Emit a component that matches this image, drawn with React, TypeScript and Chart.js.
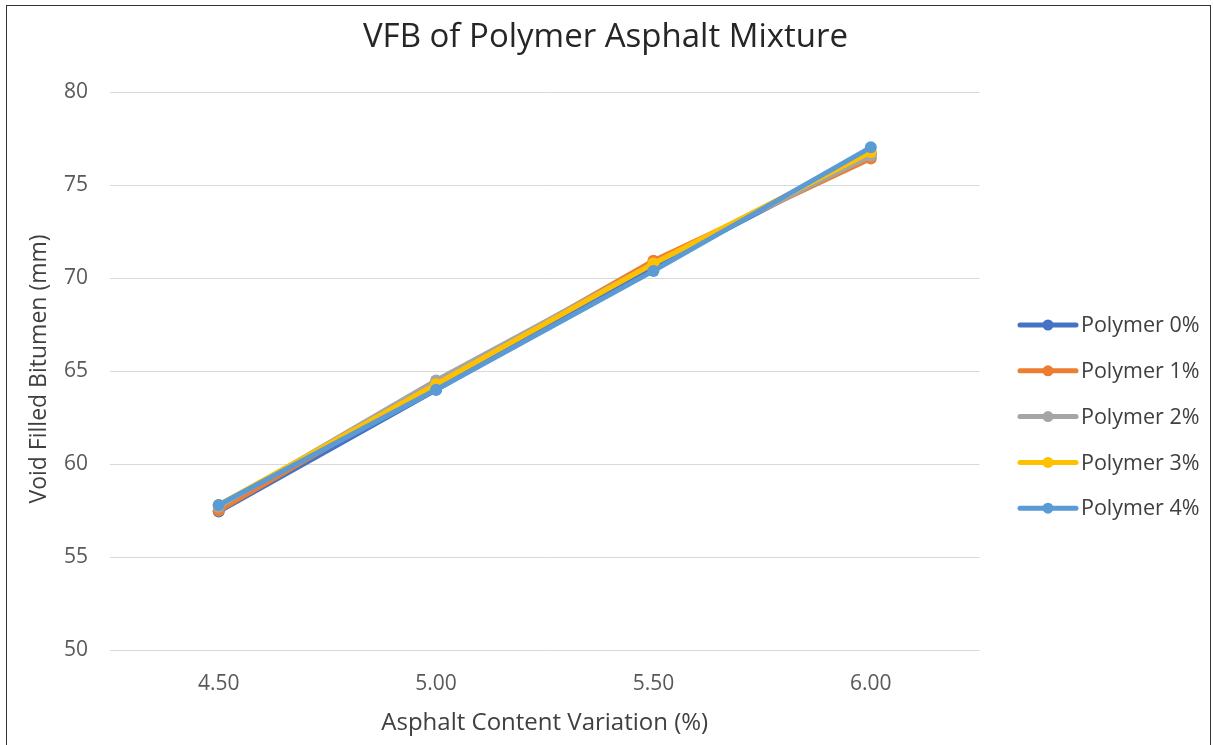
import React, { useEffect, useRef } from "react";
import { Chart, registerables } from "chart.js";

Chart.register(...registerables);

const categories = ["4.50", "5.00", "5.50", "6.00"];
const seriesNames = ["Polymer 0%", "Polymer 1%", "Polymer 2%", "Polymer 3%", "Polymer 4%"];
const polymer0 = [57.45, 64.0, 70.6, 76.7];
const polymer1 = [57.5, 64.3, 70.95, 76.45];
const polymer2 = [57.7, 64.5, 70.8, 76.6];
const polymer3 = [57.8, 64.3, 70.8, 76.8];
const polymer4 = [57.8, 64.0, 70.4, 77.05];
const seriesValues = [polymer0, polymer1, polymer2, polymer3, polymer4];
const seriesColors = ["#4472C4", "#ED7D31", "#A5A5A5", "#FFC000", "#5B9BD5"];
const yTicks = [50, 55, 60, 65, 70, 75, 80];
const chartTitle = "VFB of Polymer Asphalt Mixture";
const yTitle = "Void Filled Bitumen (mm)";
const xTitle = "Asphalt Content Variation (%)";

const FONT = "'Open Sans', 'Liberation Sans', sans-serif";

const decorPlugin = {
  id: "decor",
  afterDraw(chart: any) {
    const ctx = chart.ctx;
    ctx.save();
    // title
    ctx.fillStyle = "#262626";
    ctx.font = `33px ${FONT}`;
    ctx.textAlign = "center";
    ctx.textBaseline = "middle";
    ctx.fillText(chartTitle, 598.5, 32);
    // y title
    ctx.save();
    ctx.translate(32.5, 363);
    ctx.rotate(-Math.PI / 2);
    ctx.fillStyle = "#404040";
    ctx.font = `23px ${FONT}`;
    ctx.fillText(yTitle, 0, 0);
    ctx.restore();
    // legend
    const x0 = 1013;
    const y0 = 319;
    const gap = 45.8;
    chart.data.datasets.forEach((ds: any, i: number) => {
      const y = y0 + i * gap;
      ctx.strokeStyle = ds.borderColor;
      ctx.lineWidth = 5;
      ctx.lineCap = "round";
      ctx.beginPath();
      ctx.moveTo(x0, y);
      ctx.lineTo(x0 + 56, y);
      ctx.stroke();
      ctx.fillStyle = ds.borderColor;
      ctx.beginPath();
      ctx.arc(x0 + 28, y, 5.5, 0, Math.PI * 2);
      ctx.fill();
      ctx.fillStyle = "#404040";
      ctx.font = `21.5px ${FONT}`;
      ctx.textBaseline = "middle";
      ctx.textAlign = "left";
      ctx.fillText(ds.label, x0 + 61, y + 1);
    });
    ctx.restore();
  },
};

export default function App() {
  const ref = useRef<HTMLCanvasElement>(null);
  useEffect(() => {
    if (!ref.current) return;
    const chart = new Chart(ref.current, {
      type: "line",
      data: {
        labels: categories,
        datasets: seriesNames.map((name, i) => ({
          label: name,
          data: seriesValues[i],
          borderColor: seriesColors[i],
          backgroundColor: seriesColors[i],
          borderWidth: 5,
          pointRadius: 6,
          pointHoverRadius: 6,
          pointBorderWidth: 0,
          tension: 0,
          order: seriesNames.length - 1 - i,
        })),
      },
      options: {
        animation: false,
        responsive: false,
        maintainAspectRatio: false,
        layout: { padding: { left: 35, right: 229.5, top: 86.5, bottom: 6 } },
        plugins: {
          legend: { display: false },
          tooltip: { enabled: false },
          title: { display: false },
        },
        scales: {
          x: {
            offset: true,
            grid: { display: false },
            border: { display: false },
            ticks: { color: "#595959", font: { family: FONT, size: 21 }, padding: 13 },
            title: {
              display: true,
              text: xTitle,
              color: "#404040",
              font: { family: FONT, size: 24 },
              padding: { top: 0 },
            },
          },
          y: {
            min: 50,
            max: 80,
            afterBuildTicks: (axis: any) => {
              axis.ticks = yTicks.map((v) => ({ value: v }));
            },
            grid: { color: "#D9D9D9", lineWidth: 1, drawTicks: false },
            border: { display: false },
            ticks: { color: "#595959", font: { family: FONT, size: 21 }, padding: 22 },
            title: { display: false },
          },
        },
      },
      plugins: [decorPlugin],
    });
    return () => chart.destroy();
  }, []);
  return (
    <div
      style={{
        position: "absolute",
        left: 6,
        top: 5,
        width: 1205,
        height: 745,
        border: "1.5px solid #333",
        boxSizing: "border-box",
        background: "#fff",
      }}
    >
      <canvas ref={ref} width={1202} height={742} style={{ display: "block" }} />
    </div>
  );
}
